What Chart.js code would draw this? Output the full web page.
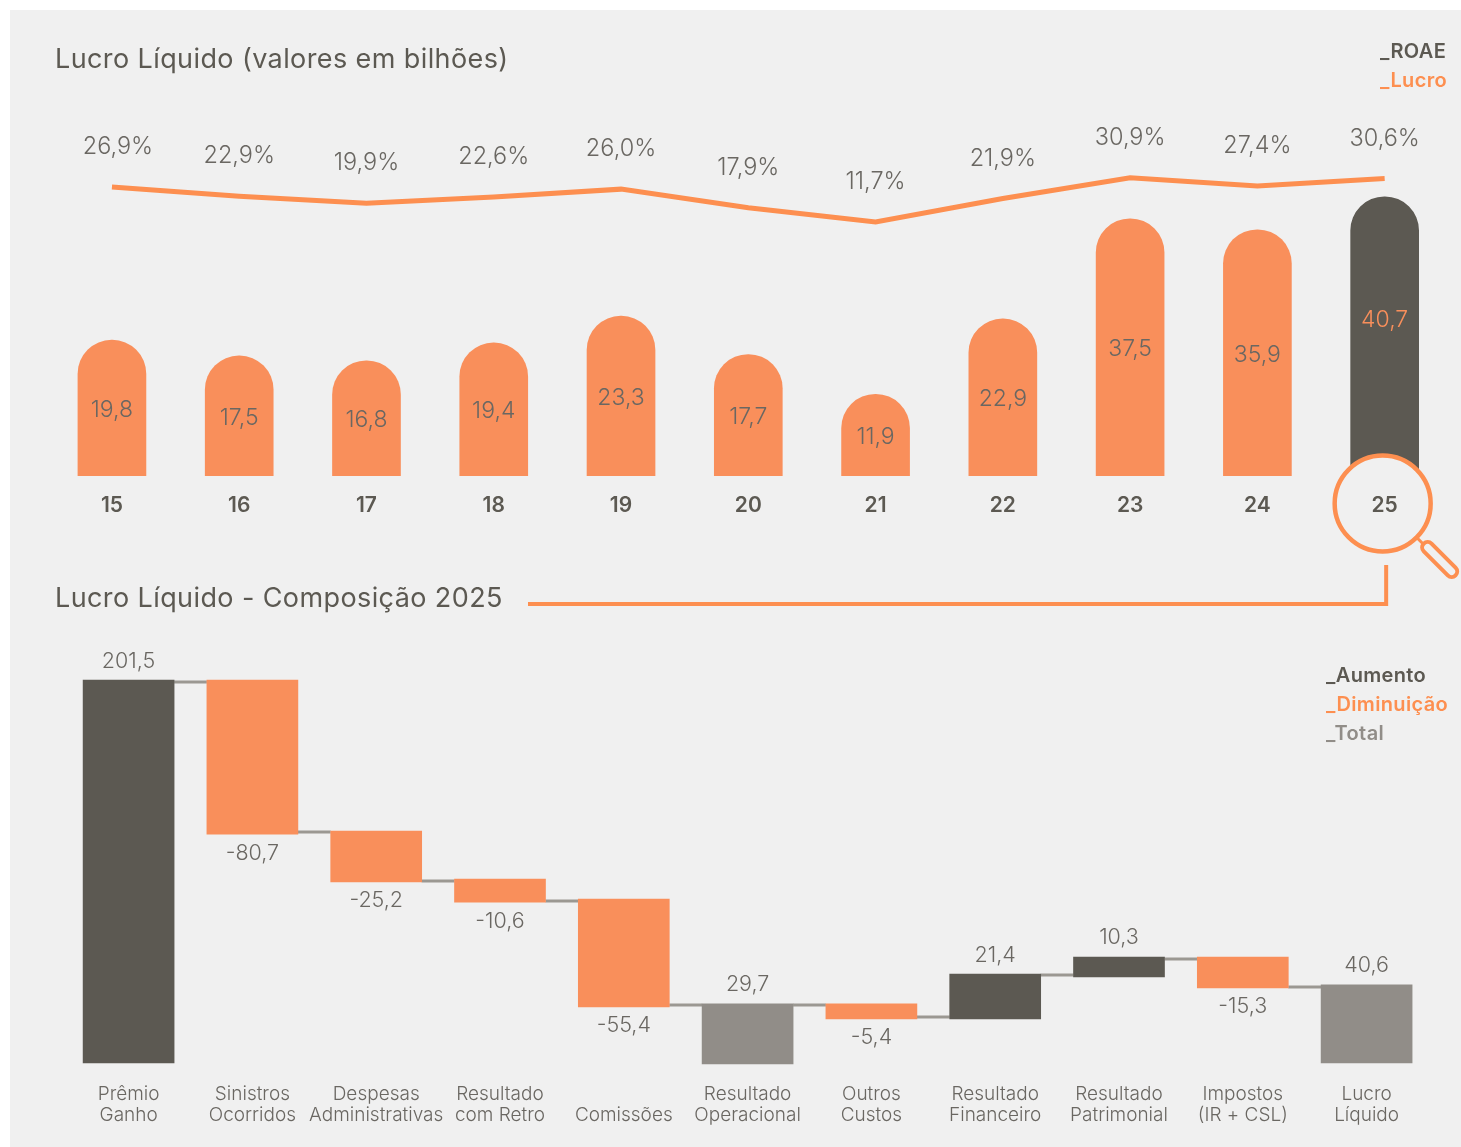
<!DOCTYPE html>
<html lang="pt-BR">
<head>
<meta charset="utf-8">
<title>Lucro Líquido</title>
<script src="https://cdn.jsdelivr.net/npm/chart.js@4"></script>
<style>
  html, body { margin: 0; padding: 0; background: #fff; }
  #page { position: relative; width: 1461px; height: 1147px; overflow: hidden; font-family: Inter, sans-serif; }
  #panel { position: absolute; left: 10px; top: 10px; right: 0; bottom: 0; background: #f0f0f0; }
  canvas { position: absolute; left: 0; }
  #lucroChart { top: 0; }
  #composicaoChart { top: 615px; }
  .title { position: absolute; left: 55px; font-size: 27px; letter-spacing: .4px; font-weight: 400; color: #5c5952; white-space: nowrap; line-height: 32px; }
  .legend { position: absolute; font-size: 20px; letter-spacing: .35px; font-weight: 600; white-space: nowrap; line-height: 29px; }
</style>
</head>
<body>
<div id="page">
  <div id="panel"></div>
  <canvas id="lucroChart" width="1461" height="615"></canvas>
  <canvas id="composicaoChart" width="1461" height="532"></canvas>
  <div class="title" style="top:43px">Lucro Líquido (valores em bilhões)</div>
  <div class="title" style="top:582px">Lucro Líquido - Composição 2025</div>
  <div class="legend" style="left:1380px;top:37px">
    <div style="color:#5c5952">_ROAE</div>
    <div style="color:#fd8f50">_Lucro</div>
  </div>
  <div class="legend" style="left:1326px;top:661px">
    <div style="color:#5c5952">_Aumento</div>
    <div style="color:#fd8f50">_Diminuição</div>
    <div style="color:#918d88">_Total</div>
  </div>
</div>
<script>
// top chart
const years = ['15', '16', '17', '18', '19', '20', '21', '22', '23', '24', '25'];
const lucro = [19.8, 17.5, 16.8, 19.4, 23.3, 17.7, 11.9, 22.9, 37.5, 35.9, 40.7];
const roae = [26.9, 22.9, 19.9, 22.6, 26.0, 17.9, 11.7, 21.9, 30.9, 27.4, 30.6];

// waterfall
const etapas = [
  ['Prêmio', 'Ganho'], ['Sinistros', 'Ocorridos'], ['Despesas', 'Administrativas'],
  ['Resultado', 'com Retro'], ['', 'Comissões'], ['Resultado', 'Operacional'],
  ['Outros', 'Custos'], ['Resultado', 'Financeiro'], ['Resultado', 'Patrimonial'],
  ['Impostos', '(IR + CSL)'], ['Lucro', 'Líquido']
];
const valores = [201.5, -80.7, -25.2, -10.6, -55.4, 29.7, -5.4, 21.4, 10.3, -15.3, 40.6];
const barTopo = [201.5, 201.5, 122.1, 96.8, 86.3, 31.1, 31.1, 46.8, 55.8, 55.8, 41.1];
const barBase = [0, 120.5, 95.3, 84.7, 29.5, -0.5, 23.2, 23.2, 45.3, 39.5, 0];
const tipos = ['aumento', 'diminuicao', 'diminuicao', 'diminuicao', 'diminuicao', 'total',
  'diminuicao', 'aumento', 'aumento', 'diminuicao', 'total'];
const niveisConexao = [200.5, 121.6, 95.8, 85.3, 30.5, 30.5, 24.2, 46.3, 54.7, 40];

const ORANGE = '#f98f5b';
const LINE_ORANGE = '#fd8f50';
const DARK = '#5c5952';
const GREY = '#918d88';
const TEXT = '#6a6762';
const BG = '#f0f0f0';
const FONT = 'Inter, sans-serif';
const tipoCor = { aumento: DARK, diminuicao: ORANGE, total: GREY };

function text(ctx, str, x, y, color, size) {
  ctx.save();
  ctx.font = `300 ${size}px ${FONT}`;
  ctx.fillStyle = color;
  ctx.textAlign = 'center';
  ctx.textBaseline = 'middle';
  ctx.fillText(str, x, y);
  ctx.restore();
}

const fmt = (v) => String(v.toFixed(1)).replace('.', ',');

// magnifier + elbow line, drawn between the bars and the x axis labels
const lupaPlugin = {
  id: 'lupa',
  afterDatasetsDraw(chart) {
    const ctx = chart.ctx;
    const x = chart.scales.x.getPixelForValue(years.length - 1);
    const cx = x - 2;
    const cy = 503.5;
    ctx.save();
    ctx.strokeStyle = LINE_ORANGE;
    ctx.fillStyle = BG;
    ctx.lineWidth = 4.5;
    ctx.beginPath();
    ctx.arc(cx, cy, 48, 0, Math.PI * 2);
    ctx.fill();
    ctx.stroke();
    // handle
    ctx.lineWidth = 3;
    ctx.beginPath();
    ctx.moveTo(cx + 34.5, cy + 34.5);
    ctx.lineTo(cx + 43, cy + 43);
    ctx.stroke();
    ctx.lineCap = 'round';
    ctx.lineWidth = 15;
    ctx.beginPath();
    ctx.moveTo(cx + 45, cy + 44);
    ctx.lineTo(cx + 69, cy + 68);
    ctx.stroke();
    ctx.strokeStyle = BG;
    ctx.lineWidth = 7;
    ctx.stroke();
    // elbow towards second title
    ctx.lineCap = 'butt';
    ctx.strokeStyle = LINE_ORANGE;
    ctx.lineWidth = 4;
    ctx.beginPath();
    ctx.moveTo(528, 604);
    ctx.lineTo(x + 1.5, 604);
    ctx.lineTo(x + 1.5, 565);
    ctx.stroke();
    ctx.restore();

    // value labels
    const bars = chart.getDatasetMeta(0).data;
    const pts = chart.getDatasetMeta(1).data;
    years.forEach((y, i) => {
      const last = i === years.length - 1;
      const mid = (bars[i].y + bars[i].base) / 2;
      text(ctx, fmt(lucro[i]), bars[i].x, mid + (last ? -16 : 2), last ? ORANGE : TEXT, 23);
      text(ctx, fmt(roae[i]) + '%', pts[i].x + (i === 0 ? 6 : 0), pts[i].y - 40, TEXT, 23.5);
    });
  }
};

new Chart(document.getElementById('lucroChart'), {
  data: {
    labels: years,
    datasets: [
      {
        type: 'bar',
        data: lucro,
        backgroundColor: years.map((y, i) => (i === years.length - 1 ? DARK : ORANGE)),
        barThickness: 68,
        borderRadius: { topLeft: 34, topRight: 34, bottomLeft: 0, bottomRight: 0 },
        borderSkipped: false,
        yAxisID: 'y',
        order: 2
      },
      {
        type: 'line',
        data: roae,
        borderColor: LINE_ORANGE,
        borderWidth: 5,
        pointRadius: 0,
        tension: 0,
        yAxisID: 'y1',
        order: 1
      }
    ]
  },
  options: {
    responsive: false,
    animation: false,
    layout: { padding: { left: 48.3, right: 12.7, top: 133, bottom: 75 } },
    plugins: { legend: { display: false }, tooltip: { enabled: false } },
    scales: {
      x: {
        grid: { display: false },
        border: { display: false },
        ticks: { z: 1, color: DARK, font: { family: FONT, size: 21, weight: '600' }, padding: 9, maxRotation: 0 },
        afterFit: (s) => { s.height = 64; }
      },
      y: { display: false, min: 0, max: 50 },
      y1: { display: false, min: -98.7, max: 50.4 }
    }
  },
  plugins: [lupaPlugin]
});

const conexaoPlugin = {
  id: 'conexao',
  beforeDatasetsDraw(chart) {
    const ctx = chart.ctx;
    const bars = chart.getDatasetMeta(0).data;
    const y = chart.scales.y;
    ctx.save();
    ctx.strokeStyle = '#9b9892';
    ctx.lineWidth = 3;
    niveisConexao.forEach((nivel, i) => {
      const py = y.getPixelForValue(nivel);
      ctx.beginPath();
      ctx.moveTo(bars[i].x + bars[i].width / 2, py);
      ctx.lineTo(bars[i + 1].x - bars[i + 1].width / 2, py);
      ctx.stroke();
    });
    ctx.restore();
  },
  afterDatasetsDraw(chart) {
    const ctx = chart.ctx;
    const bars = chart.getDatasetMeta(0).data;
    const y = chart.scales.y;
    valores.forEach((v, i) => {
      const py = v < 0 ? y.getPixelForValue(barBase[i]) + 19 : y.getPixelForValue(barTopo[i]) - 19;
      text(ctx, fmt(v), bars[i].x, py, TEXT, 21.5);
    });
  }
};

new Chart(document.getElementById('composicaoChart'), {
  type: 'bar',
  data: {
    labels: etapas,
    datasets: [{
      data: barTopo.map((t, i) => [barBase[i], t]),
      backgroundColor: tipos.map((t) => tipoCor[t]),
      barThickness: 91,
      borderSkipped: false
    }]
  },
  options: {
    responsive: false,
    animation: false,
    layout: { padding: { left: 66.7, right: 32.5, top: 49, bottom: 0 } },
    plugins: { legend: { display: false }, tooltip: { enabled: false } },
    scales: {
      x: {
        grid: { display: false },
        border: { display: false },
        ticks: { color: TEXT, font: { family: FONT, size: 19, weight: '300', lineHeight: 1.11 }, padding: 3, maxRotation: 0, autoSkip: false },
        afterFit: (s) => { s.height = 74.5; }
      },
      y: { display: false, min: -5, max: 210 }
    }
  },
  plugins: [conexaoPlugin]
});
</script>
</body>
</html>
